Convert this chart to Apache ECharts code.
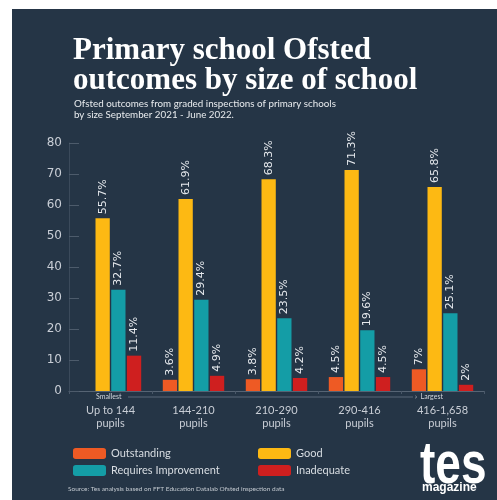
<!DOCTYPE html>
<html>
<head>
<meta charset="utf-8">
<script src="https://cdn.jsdelivr.net/npm/echarts@6/dist/echarts.min.js"></script>
<style>
  html, body { margin: 0; padding: 0; background: #ffffff; }
  #main { position: absolute; left: 12px; top: 9px; width: 485px; height: 491px; }
</style>
</head>
<body>
<div id="main"></div>
<script>
// school size bands
var categories = ['Up to 144\npupils', '144-210\npupils', '210-290\npupils', '290-416\npupils', '416-1,658\npupils'];
// % of inspections by grade
var outstanding = [null, 3.6, 3.8, 4.5, 7];
var good = [55.7, 61.9, 68.3, 71.3, 65.8];
var requiresImprovement = [32.7, 29.4, 23.5, 19.6, 25.1];
var inadequate = [11.4, 4.9, 4.2, 4.5, 2];
var yTicks = [0, 10, 20, 30, 40, 50, 60, 70, 80];

var bg = '#253546';
var labelColor = '#c9ced6';

var chart = echarts.init(document.getElementById('main'));

var barLabel = {
  show: true,
  position: 'top',
  rotate: 90,
  align: 'left',
  verticalAlign: 'middle',
  distance: 4,
  color: '#e6e9ed',
  fontSize: 11,
  fontFamily: 'DejaVu Sans',
  formatter: function (p) { return p.value + '%'; }
};

function makeSeries(name, data, color) {
  return {
    name: name,
    type: 'bar',
    data: data,
    barGap: '10%',
    barCategoryGap: '26%',
    itemStyle: { color: color },
    label: barLabel
  };
}

chart.setOption({
  backgroundColor: bg,
  animation: false,
  textStyle: { fontFamily: 'Lato' },
  title: [{
    text: 'Primary school Ofsted\noutcomes by size of school',
    left: 56,
    top: 22,
    textStyle: {
      color: '#ffffff',
      fontFamily: 'Liberation Serif',
      fontWeight: 'bold',
      fontSize: 31,
      lineHeight: 30
    }
  }, {
    text: 'Ofsted outcomes from graded inspections of primary schools\nby size September 2021 - June 2022.',
    left: 57,
    top: 84,
    textStyle: {
      color: '#e8ebee',
      fontFamily: 'Lato',
      fontWeight: 'normal',
      fontSize: 9.8,
      lineHeight: 11
    }
  }],
  legend: [{
    orient: 'vertical',
    left: 56,
    top: 434,
    itemWidth: 33,
    itemHeight: 11,
    itemGap: 6,
    data: ['Outstanding', 'Requires Improvement'],
    textStyle: { color: '#d8dde2', fontSize: 11, fontFamily: 'Lato' }
  }, {
    orient: 'vertical',
    left: 241,
    top: 434,
    itemWidth: 33,
    itemHeight: 11,
    itemGap: 6,
    data: ['Good', 'Inadequate'],
    textStyle: { color: '#d8dde2', fontSize: 11, fontFamily: 'Lato' }
  }],
  grid: { left: 57, right: 13, top: 134, bottom: 109, containLabel: false },
  xAxis: {
    type: 'category',
    data: categories,
    axisLine: { lineStyle: { color: '#566474', width: 1 } },
    axisTick: { show: true, length: 3, lineStyle: { color: '#4a5869' } },
    axisLabel: {
      color: labelColor,
      fontSize: 11,
      lineHeight: 13,
      margin: 13,
      fontFamily: 'Lato'
    }
  },
  yAxis: {
    type: 'value',
    min: 0,
    max: 80,
    interval: 10,
    axisLine: { show: true, lineStyle: { color: '#3b4a5b' } },
    axisTick: { show: true, inside: true, length: 10, lineStyle: { color: '#4d5b6b' } },
    splitLine: { show: false },
    axisLabel: {
      color: labelColor,
      fontSize: 12,
      margin: 7,
      fontFamily: 'DejaVu Sans',
      formatter: function (v) { return yTicks.indexOf(v) >= 0 ? String(v) : ''; }
    }
  },
  series: [
    makeSeries('Outstanding', outstanding, '#ee5a24'),
    makeSeries('Good', good, '#fdb913'),
    makeSeries('Requires Improvement', requiresImprovement, '#149da6'),
    makeSeries('Inadequate', inadequate, '#cf1f1f')
  ],
  graphic: [
    // smallest -> largest guide under the axis
    { type: 'line', shape: { x1: 116, y1: 388, x2: 401, y2: 388 }, style: { stroke: '#5b6878', lineWidth: 1 }, silent: true },
    { type: 'text', left: 84, top: 384, style: { text: 'Smallest', fill: '#d0d5db', font: '7px Lato' } },
    { type: 'text', left: 403, top: 384, style: { text: '›  Largest', fill: '#d0d5db', font: '7px Lato' } },
    { type: 'text', left: 56, top: 476, style: { text: 'Source: Tes analysis based on FFT Education Datalab Ofsted inspection data', fill: '#c3c9d0', font: '6.5px Lato' } },
    // tes magazine logo
    { type: 'text', x: 408, y: 428, scaleY: 1.3, style: { text: 'tes', fill: '#ffffff', font: '900 46px "Liberation Sans"' } },
    { type: 'text', x: 410, y: 473, style: { text: 'magazine', fill: '#ffffff', font: 'bold 12px "Liberation Sans"' } }
  ]
});
</script>
</body>
</html>
